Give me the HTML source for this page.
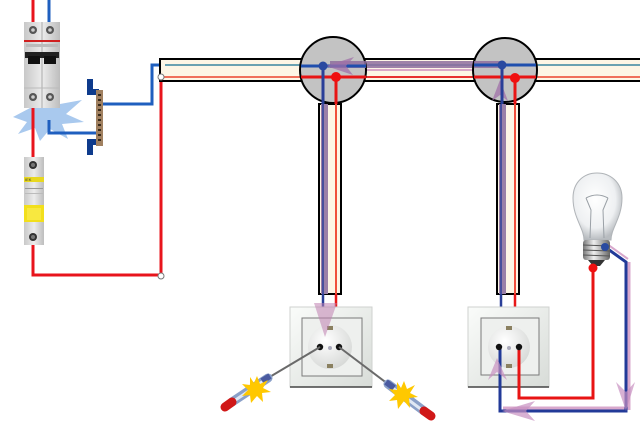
<!DOCTYPE html>
<html><head><meta charset="utf-8"><style>
html,body{margin:0;padding:0;background:#fff;}
svg{display:block;}
</style></head><body>
<svg width="640" height="432" viewBox="0 0 640 432" xmlns="http://www.w3.org/2000/svg">
<defs>
<linearGradient id="brk" x1="0" y1="0" x2="1" y2="0">
<stop offset="0" stop-color="#c8c8c8"/><stop offset="0.5" stop-color="#ececec"/><stop offset="1" stop-color="#bdbdbd"/>
</linearGradient>
<linearGradient id="sock" x1="0" y1="0" x2="1" y2="1">
<stop offset="0" stop-color="#fafcfa"/><stop offset="1" stop-color="#d8dcd8"/>
</linearGradient>
<radialGradient id="round" cx="0.4" cy="0.35" r="0.7">
<stop offset="0" stop-color="#ffffff"/><stop offset="1" stop-color="#d6d8d6"/>
</radialGradient>
<radialGradient id="glass" cx="0.45" cy="0.4" r="0.6">
<stop offset="0" stop-color="#ffffff"/><stop offset="0.7" stop-color="#eef0f2"/><stop offset="1" stop-color="#b8bcc0"/>
</radialGradient>
<linearGradient id="metal" x1="0" y1="0" x2="1" y2="0">
<stop offset="0" stop-color="#777"/><stop offset="0.4" stop-color="#eee"/><stop offset="1" stop-color="#666"/>
</linearGradient>
</defs>

<!-- starburst -->
<polygon points="13,117 30,108 27,92 44,103 56,89 60,104 82,100 66,114 84,122 62,124 68,139 50,129 40,141 35,128 18,134 27,122" fill="#a9c9ee"/>

<!-- left wires -->
<line x1="33" y1="0" x2="33" y2="24" stroke="#e8141c" stroke-width="3"/>
<line x1="49" y1="0" x2="49" y2="24" stroke="#1f5fbf" stroke-width="3"/>
<line x1="33" y1="106" x2="33" y2="158" stroke="#e8141c" stroke-width="3"/>
<polyline points="33,244 33,275 161,275 161,77" fill="none" stroke="#e8141c" stroke-width="3"/>
<polyline points="49,120 49,133 98,133" fill="none" stroke="#1f5fbf" stroke-width="3"/>
<polyline points="100,104 152,104 152,65 165,65" fill="none" stroke="#1f5fbf" stroke-width="3"/>

<!-- 2 pole breaker -->
<rect x="24" y="22" width="36" height="86" fill="url(#brk)"/>
<line x1="42" y1="22" x2="42" y2="108" stroke="#aaa" stroke-width="1"/>
<circle cx="33" cy="30" r="4" fill="#555"/><circle cx="50" cy="30" r="4" fill="#555"/>
<circle cx="33" cy="30" r="1.8" fill="#ccc"/><circle cx="50" cy="30" r="1.8" fill="#ccc"/>
<rect x="24" y="40" width="36" height="2" fill="#d02020"/>
<rect x="26" y="44" width="32" height="3" fill="#bbb"/>
<rect x="25" y="52" width="34" height="6" fill="#222"/>
<rect x="28" y="56" width="12" height="8" fill="#111"/>
<rect x="44" y="56" width="12" height="8" fill="#111"/>
<line x1="24" y1="88" x2="60" y2="88" stroke="#bbb"/>
<circle cx="33" cy="97" r="4" fill="#555"/><circle cx="50" cy="97" r="4" fill="#555"/>
<circle cx="33" cy="97" r="1.8" fill="#ccc"/><circle cx="50" cy="97" r="1.8" fill="#ccc"/>

<!-- IEK breaker -->
<rect x="24" y="157" width="20" height="88" fill="url(#brk)"/>
<circle cx="33" cy="165" r="4" fill="#333"/><circle cx="33" cy="165" r="2" fill="#777"/>
<rect x="24" y="177" width="20" height="5" fill="#e8d820"/>
<text x="25" y="181" font-family="Liberation Sans, sans-serif" font-size="4" fill="#333">IEK</text>
<rect x="25" y="188" width="18" height="1" fill="#999"/>
<rect x="25" y="193" width="18" height="1" fill="#bbb"/>
<rect x="24" y="205" width="20" height="17" fill="#f2df1c"/>
<rect x="27" y="208" width="14" height="12" fill="#f8e840"/>
<circle cx="33" cy="237" r="4" fill="#333"/><circle cx="33" cy="237" r="2" fill="#777"/>

<!-- busbar -->
<rect x="87" y="79" width="6" height="16" fill="#0e3b8c"/>
<rect x="87" y="89" width="12" height="6" fill="#0e3b8c"/>
<rect x="87" y="139" width="6" height="16" fill="#0e3b8c"/>
<rect x="87" y="139" width="12" height="6" fill="#0e3b8c"/>
<rect x="96" y="90" width="7" height="56" fill="#a08060"/>
<g fill="#3a2a1a">
<rect x="98" y="94" width="3" height="2"/><rect x="98" y="99" width="3" height="2"/><rect x="98" y="104" width="3" height="2"/><rect x="98" y="109" width="3" height="2"/><rect x="98" y="114" width="3" height="2"/><rect x="98" y="119" width="3" height="2"/><rect x="98" y="124" width="3" height="2"/><rect x="98" y="129" width="3" height="2"/><rect x="98" y="134" width="3" height="2"/><rect x="98" y="139" width="3" height="2"/>
</g>

<!-- horizontal cable -->
<rect x="160" y="59" width="490" height="22" fill="#fdf6e6" stroke="#000" stroke-width="2"/>
<line x1="165" y1="65" x2="640" y2="65" stroke="#6aa2b2" stroke-width="2"/>
<line x1="161" y1="77" x2="640" y2="77" stroke="#f0705c" stroke-width="2"/>
<!-- purple band between junctions -->
<rect x="360" y="61" width="120" height="7" fill="#8e6e9e" opacity="0.85"/>
<line x1="360" y1="70" x2="480" y2="70" stroke="#d9a8c8" stroke-width="2"/>
<line x1="360" y1="77" x2="480" y2="77" stroke="#e83030" stroke-width="2"/>

<!-- vertical cables -->
<rect x="319" y="104" width="22" height="190" fill="#fdf6e6" stroke="#000" stroke-width="2"/>
<rect x="321" y="104" width="7" height="190" fill="#9a80a8"/>
<line x1="323" y1="104" x2="323" y2="294" stroke="#2a3f98" stroke-width="1.5"/>
<line x1="336" y1="104" x2="336" y2="294" stroke="#f0503c" stroke-width="2"/>
<rect x="497" y="104" width="22" height="190" fill="#fdf6e6" stroke="#000" stroke-width="2"/>
<rect x="499" y="104" width="7" height="190" fill="#9a80a8"/>
<line x1="501" y1="104" x2="501" y2="294" stroke="#2a3f98" stroke-width="1.5"/>
<line x1="515" y1="104" x2="515" y2="294" stroke="#f0503c" stroke-width="2"/>

<!-- wires from cables to sockets -->
<line x1="323" y1="294" x2="323" y2="310" stroke="#2a3f98" stroke-width="2.5"/>
<line x1="336" y1="294" x2="336" y2="310" stroke="#e81818" stroke-width="2.5"/>
<line x1="501" y1="294" x2="501" y2="310" stroke="#2a3f98" stroke-width="2.5"/>
<line x1="515" y1="294" x2="515" y2="310" stroke="#e81818" stroke-width="2.5"/>

<!-- junction 1 -->
<circle cx="333" cy="70" r="33" fill="#c3c3c3" stroke="#000" stroke-width="2"/>
<rect x="330" y="61" width="36" height="7" fill="#8e6e9e" opacity="0.85"/>
<line x1="301" y1="66" x2="366" y2="66" stroke="#1f4fae" stroke-width="3"/>
<line x1="301" y1="77" x2="366" y2="77" stroke="#e81414" stroke-width="3"/>
<line x1="323" y1="66" x2="323" y2="104" stroke="#2a3f98" stroke-width="3"/>
<line x1="336" y1="77" x2="336" y2="104" stroke="#e81414" stroke-width="3"/>
<polygon points="326,66 354,57 346,66 353,75" fill="#a070a8" opacity="0.75"/>
<circle cx="323" cy="66" r="4.5" fill="#2a4aa0"/>
<circle cx="336" cy="77" r="5" fill="#f01010"/>

<!-- junction 2 -->
<circle cx="505" cy="70" r="32" fill="#c3c3c3" stroke="#000" stroke-width="2"/>
<rect x="474" y="61" width="30" height="7" fill="#8e6e9e" opacity="0.85"/>
<line x1="474" y1="65" x2="536" y2="65" stroke="#1f4fae" stroke-width="3"/>
<line x1="474" y1="77" x2="536" y2="77" stroke="#e81414" stroke-width="3"/>
<polygon points="500,80 508,101 500,95 492,101" fill="#a070a8" opacity="0.75"/>
<line x1="502" y1="65" x2="502" y2="104" stroke="#2a3f98" stroke-width="3"/>
<line x1="515" y1="77" x2="515" y2="104" stroke="#e81414" stroke-width="3"/>
<circle cx="502" cy="65" r="4.5" fill="#2a4aa0"/>
<circle cx="515" cy="78" r="5" fill="#f01010"/>

<!-- nodes -->
<circle cx="161" cy="77" r="3" fill="#fff" stroke="#777" stroke-width="1"/>
<circle cx="161" cy="276" r="3" fill="#fff" stroke="#777" stroke-width="1"/>

<!-- socket 1 -->
<rect x="290" y="307" width="82" height="80" fill="url(#sock)" stroke="#cfd2cf"/>
<line x1="290" y1="387" x2="372" y2="387" stroke="#444" stroke-width="1.5"/>
<rect x="302" y="318" width="60" height="58" fill="#eef0ee" stroke="#7a7a7a" stroke-width="1"/>
<circle cx="330" cy="347" r="22" fill="url(#round)"/>
<rect x="327" y="326" width="6" height="4" fill="#8a8060"/>
<rect x="327" y="364" width="6" height="4" fill="#8a8060"/>
<circle cx="330" cy="348" r="2" fill="#aab"/>
<circle cx="320" cy="347" r="3.2" fill="#111"/>
<circle cx="339" cy="347" r="3.2" fill="#111"/>
<polygon points="314,303 337,303 325,337" fill="#c080b0" opacity="0.55"/>

<!-- socket 2 -->
<rect x="468" y="307" width="81" height="80" fill="url(#sock)" stroke="#cfd2cf"/>
<line x1="468" y1="387" x2="549" y2="387" stroke="#444" stroke-width="1.5"/>
<rect x="481" y="318" width="58" height="57" fill="#eef0ee" stroke="#7a7a7a" stroke-width="1"/>
<circle cx="509" cy="347" r="21" fill="url(#round)"/>
<rect x="506" y="326" width="6" height="4" fill="#8a8060"/>
<rect x="506" y="364" width="6" height="4" fill="#8a8060"/>
<circle cx="509" cy="348" r="2" fill="#aab"/>

<!-- right wires -->
<polyline points="519,347 519,398 593,398 593,268" fill="none" stroke="#e81414" stroke-width="3"/>
<line x1="503" y1="408" x2="628" y2="408" stroke="#d8a8cc" stroke-width="3"/>
<line x1="629" y1="262" x2="629" y2="410" stroke="#d8a8cc" stroke-width="3"/>
<polyline points="500,347 500,411 626,411 626,262 605,247" fill="none" stroke="#223a98" stroke-width="3"/>
<polyline points="607,244 628,259" fill="none" stroke="#d8a8cc" stroke-width="2"/>
<polygon points="626,411 616,382 626,392 635,382" fill="#c890c0" opacity="0.7"/>
<polygon points="502,411 535,401 526,411 535,421" fill="#c890c0" opacity="0.7"/>
<polygon points="497,358 507,380 497,372 488,380" fill="#c890c0" opacity="0.7"/>
<circle cx="499" cy="347" r="3.2" fill="#111"/>
<circle cx="519" cy="347" r="3.2" fill="#111"/>

<!-- bulb -->
<path d="M584,240 C584,228 573,218 573,198 C573,182 584,173 597,173 C610,173 622,182 622,198 C622,218 611,228 611,240 Z" fill="url(#glass)" stroke="#b0b4b8" stroke-width="1"/>
<path d="M590,238 L591,210 L586,198 M604,238 L603,210 L608,198 M586,198 Q597,192 608,198" fill="none" stroke="#9aa0a6" stroke-width="1"/>
<rect x="583" y="240" width="27" height="20" rx="3" fill="url(#metal)"/>
<line x1="583" y1="245" x2="610" y2="246" stroke="#555"/>
<line x1="583" y1="250" x2="610" y2="251" stroke="#555"/>
<line x1="583" y1="255" x2="610" y2="256" stroke="#555"/>
<path d="M588,260 L605,260 L600,266 L593,266 Z" fill="#333"/>
<circle cx="593" cy="268" r="4.5" fill="#f01010"/>
<circle cx="605" cy="247" r="4" fill="#2a4aa0"/>

<!-- screwdriver left -->
<line x1="320" y1="347" x2="268" y2="378" stroke="#6a6a6a" stroke-width="2"/>
<line x1="268" y1="378" x2="232" y2="402" stroke="#8aa0c8" stroke-width="9" stroke-linecap="round"/>
<line x1="265" y1="380" x2="234" y2="401" stroke="#e0e8f4" stroke-width="3"/>
<line x1="270" y1="376" x2="262" y2="381" stroke="#4a5aa0" stroke-width="6"/>
<line x1="232" y1="402" x2="225" y2="407" stroke="#d01818" stroke-width="9" stroke-linecap="round"/>
<polygon points="257,376 260,384 268,380 263,388 271,392 262,393 263,402 257,396 251,403 250,395 242,396 248,390 242,384 250,385 250,377 254,383" fill="#ffc800"/>

<!-- screwdriver right -->
<line x1="339" y1="347" x2="388" y2="384" stroke="#6a6a6a" stroke-width="2"/>
<line x1="388" y1="384" x2="424" y2="411" stroke="#8aa0c8" stroke-width="9" stroke-linecap="round"/>
<line x1="390" y1="386" x2="422" y2="410" stroke="#e0e8f4" stroke-width="3"/>
<line x1="386" y1="382" x2="394" y2="388" stroke="#4a5aa0" stroke-width="6"/>
<line x1="424" y1="411" x2="431" y2="416" stroke="#d01818" stroke-width="9" stroke-linecap="round"/>
<polygon points="404,381 407,389 415,385 410,393 418,397 409,398 410,408 404,401 398,409 397,400 389,401 395,395 389,389 397,390 397,382 401,388" fill="#ffc800"/>
</svg>
</body></html>
